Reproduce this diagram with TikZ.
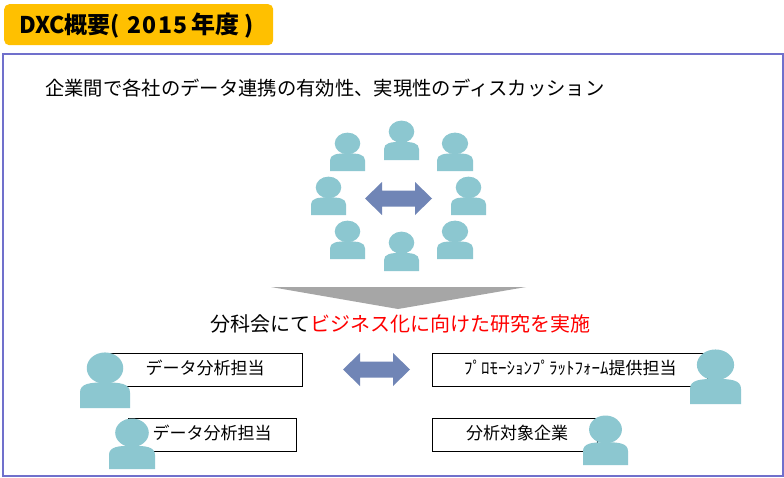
\documentclass[tikz,border=0pt]{standalone}
\usepackage{fontspec}
\setmainfont{Noto Sans CJK JP}
\definecolor{frameblue}{HTML}{7070CC}
\definecolor{titleamber}{HTML}{FFC000}
\definecolor{personteal}{HTML}{8CC7D0}
\definecolor{arrowblue}{HTML}{7085B6}
\definecolor{wedgegray}{HTML}{A6A6A6}
% person: left x, top y, right x, bottom y
\newcommand{\personfig}[4]{%
  \pgfmathsetmacro{\pw}{#3-#1}\pgfmathsetmacro{\ph}{#4-#2}%
  \pgfmathsetmacro{\pcx}{(#1+#3)/2}%
  \pgfmathsetmacro{\pht}{#2+0.535*\ph}%
  \pgfmathsetmacro{\pmid}{#2+0.72*\ph}%
  \fill[personteal] (#1,#4) -- (#1,\pmid) .. controls (#1,\pht+1) and (\pcx-0.3*\pw,\pht) .. (\pcx,\pht)
     .. controls (\pcx+0.3*\pw,\pht) and (#3,\pht+1) .. (#3,\pmid) -- (#3,#4) -- cycle;
  \fill[personteal] (\pcx,#2+0.275*\ph) ellipse [x radius=0.365*\pw, y radius=0.285*\ph];
}
% double arrow: left x, right x, center y, head half height, shaft half height, head length
\newcommand{\dblarrow}[6]{%
  \fill[arrowblue] (#1,#3) -- (#1+#6,#3-#4) -- (#1+#6,#3-#5) -- (#2-#6,#3-#5) -- (#2-#6,#3-#4) -- (#2,#3)
    -- (#2-#6,#3+#4) -- (#2-#6,#3+#5) -- (#1+#6,#3+#5) -- (#1+#6,#3+#4) -- cycle;
}
\tikzset{
  boxnode/.style={draw=black,line width=0.9pt,fill=white,anchor=north west,inner sep=0pt},
  lab/.style={font=\fontsize{17}{20}\selectfont,inner sep=0pt,anchor=center,text=black}
}
\begin{document}
\begin{tikzpicture}[x=1pt,y=-1pt]
\useasboundingbox (0,0) rectangle (784,477);
\fill[white] (0,0) rectangle (784,477);
\node[draw=none,fill=titleamber,rounded corners=5pt,anchor=north west,minimum width=269pt,minimum height=41pt,inner sep=0pt] (title) at (4,4) {};
\node[anchor=west,inner sep=0pt,font=\fontsize{23}{26}\selectfont\bfseries] (titletext) at (19,26) {DXC概要(\hspace{7pt}2\hspace{1.5pt}0\hspace{1.5pt}1\hspace{1.5pt}5\hspace{4pt}{\fontsize{24}{26}\selectfont 年度}\hspace{5pt})};
\node[draw=frameblue,line width=2pt,anchor=north west,minimum width=780pt,minimum height=422pt,inner sep=0pt] (frame) at (2,53) {};
\node[anchor=west,inner sep=0pt,font=\fontsize{19.33}{22}\selectfont] (head) at (45,88) {企業間で各社のデータ連携の有効性、実現性のディスカッション};
\personfig{330}{133}{365}{171}
\personfig{384}{121}{419}{160}
\personfig{437}{133}{473}{171}
\personfig{311}{177}{346}{215}
\personfig{451}{177}{486}{215}
\personfig{330}{221}{365}{259}
\personfig{437}{221}{473}{259}
\personfig{384}{232}{419}{271}
\dblarrow{365}{432}{198.5}{16.5}{8}{17}
\fill[wedgegray] (271,287) -- (526,287) -- (398,309) -- cycle;
\node[anchor=west,inner sep=0pt,font=\fontsize{20}{23}\selectfont] (sub) at (210.5,324) {分科会にて\textcolor{red}{ビジネス化に向けた研究を実施}};
\node[boxnode,minimum width=194pt,minimum height=33pt] (b1) at (108,353) {};
\node[lab] (l1) at (205,368) {データ分析担当};
\node[boxnode,minimum width=168pt,minimum height=33pt] (b2) at (128,418) {};
\node[lab] (l2) at (212,433) {データ分析担当};
\node[boxnode,minimum width=275pt,minimum height=33pt] (b3) at (432,353) {};
\node[lab,anchor=west] (l3) at (464,368) {ﾌﾟﾛﾓｰｼｮﾝﾌﾟﾗｯﾄﾌｫｰﾑ提供担当};
\node[boxnode,minimum width=165pt,minimum height=33pt] (b4) at (432,418) {};
\node[lab] (l4) at (517,433) {分析対象企業};
\dblarrow{343}{410}{369.5}{16.5}{8}{17}
\personfig{80}{353}{130}{408}
\personfig{109}{419}{155}{469}
\personfig{690}{350}{741}{404}
\personfig{583}{416}{628}{465}
\end{tikzpicture}
\end{document}
